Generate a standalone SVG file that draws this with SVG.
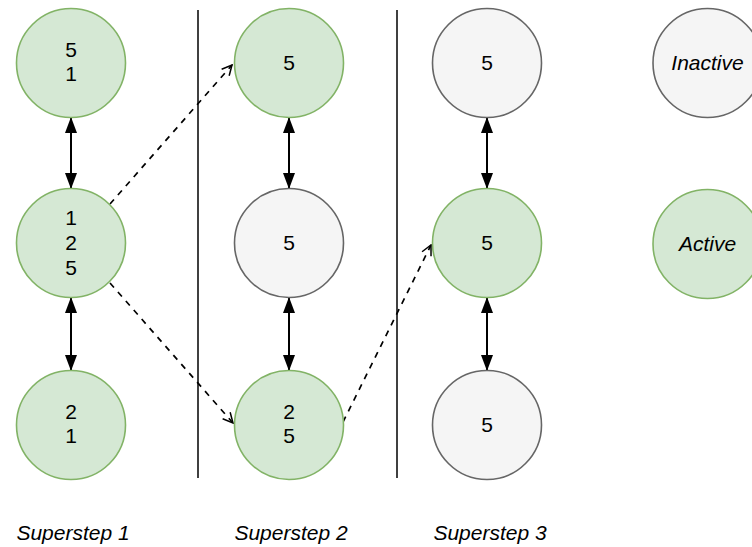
<svg xmlns="http://www.w3.org/2000/svg" width="752" height="547" viewBox="0 0 752 547">
<style>
.act{fill:#d5e8d4;stroke:#82b366;stroke-width:1.6}
.ina{fill:#f5f5f5;stroke:#666666;stroke-width:1.6}
.t{font-family:"Liberation Sans",Arial,sans-serif;font-size:21px;text-anchor:middle;fill:#000}
.i{font-style:italic}
.sep{stroke:#000;stroke-width:1.5}
.solid{stroke:#000;stroke-width:2;fill:none}
.dash{stroke:#000;stroke-width:1.7;stroke-dasharray:6 6;fill:none}
</style>
<defs>
<marker id="blk" viewBox="0 0 16 12" refX="15" refY="6" markerWidth="16" markerHeight="12" markerUnits="userSpaceOnUse" orient="auto-start-reverse">
<path d="M0,0 L16,6 L0,12 Z" fill="#000"/>
</marker>
<marker id="opn" viewBox="0 0 12 12" refX="11" refY="6" markerWidth="12" markerHeight="12" markerUnits="userSpaceOnUse" orient="auto">
<path d="M1,1 L11,6 L1,11" fill="none" stroke="#000" stroke-width="1.5"/>
</marker>
</defs>
<g id="separators">
<line class="sep" x1="198" y1="10" x2="198" y2="478"/>
<line class="sep" x1="397" y1="10" x2="397" y2="478"/>
</g>
<g id="connectors">
<line class="solid" x1="71" y1="118" x2="71" y2="188" marker-start="url(#blk)" marker-end="url(#blk)"/>
<line class="solid" x1="71" y1="298" x2="71" y2="370" marker-start="url(#blk)" marker-end="url(#blk)"/>
<line class="solid" x1="289" y1="118" x2="289" y2="188" marker-start="url(#blk)" marker-end="url(#blk)"/>
<line class="solid" x1="289" y1="298" x2="289" y2="370" marker-start="url(#blk)" marker-end="url(#blk)"/>
<line class="solid" x1="487" y1="118" x2="487" y2="188" marker-start="url(#blk)" marker-end="url(#blk)"/>
<line class="solid" x1="487" y1="298" x2="487" y2="370" marker-start="url(#blk)" marker-end="url(#blk)"/>
<line class="dash" x1="110" y1="204" x2="232" y2="65" marker-end="url(#opn)"/>
<line class="dash" x1="110" y1="283" x2="233" y2="423" marker-end="url(#opn)"/>
<line class="dash" x1="343" y1="422" x2="431" y2="245" marker-end="url(#opn)"/>
</g>
<g id="n1">
<circle class="act" cx="71" cy="63" r="54.5"/>
<text class="t" x="71" y="57">5</text>
<text class="t" x="71" y="81">1</text>
</g>
<g id="n2">
<circle class="act" cx="71" cy="243" r="54.5"/>
<text class="t" x="71" y="225">1</text>
<text class="t" x="71" y="250">2</text>
<text class="t" x="71" y="275">5</text>
</g>
<g id="n3">
<circle class="act" cx="71" cy="425" r="54.5"/>
<text class="t" x="71" y="419">2</text>
<text class="t" x="71" y="443">1</text>
</g>
<g id="n4">
<circle class="act" cx="289" cy="63" r="54.5"/>
<text class="t" x="289" y="70">5</text>
</g>
<g id="n5">
<circle class="ina" cx="289" cy="243" r="54.5"/>
<text class="t" x="289" y="250">5</text>
</g>
<g id="n6">
<circle class="act" cx="289" cy="425" r="54.5"/>
<text class="t" x="289" y="419">2</text>
<text class="t" x="289" y="443">5</text>
</g>
<g id="n7">
<circle class="ina" cx="487" cy="63" r="54.5"/>
<text class="t" x="487" y="70">5</text>
</g>
<g id="n8">
<circle class="act" cx="487" cy="243" r="54.5"/>
<text class="t" x="487" y="250">5</text>
</g>
<g id="n9">
<circle class="ina" cx="487" cy="425" r="54.5"/>
<text class="t" x="487" y="432">5</text>
</g>
<g id="legend-inactive">
<circle class="ina" cx="707.5" cy="63" r="54.5"/>
<text class="t i" x="707.5" y="70">Inactive</text>
</g>
<g id="legend-active">
<circle class="act" cx="707.5" cy="244" r="54.5"/>
<text class="t i" x="707.5" y="251">Active</text>
</g>
<g id="labels">
<text class="t i" x="73" y="540">Superstep 1</text>
<text class="t i" x="291" y="540">Superstep 2</text>
<text class="t i" x="490" y="540">Superstep 3</text>
</g>
</svg>
